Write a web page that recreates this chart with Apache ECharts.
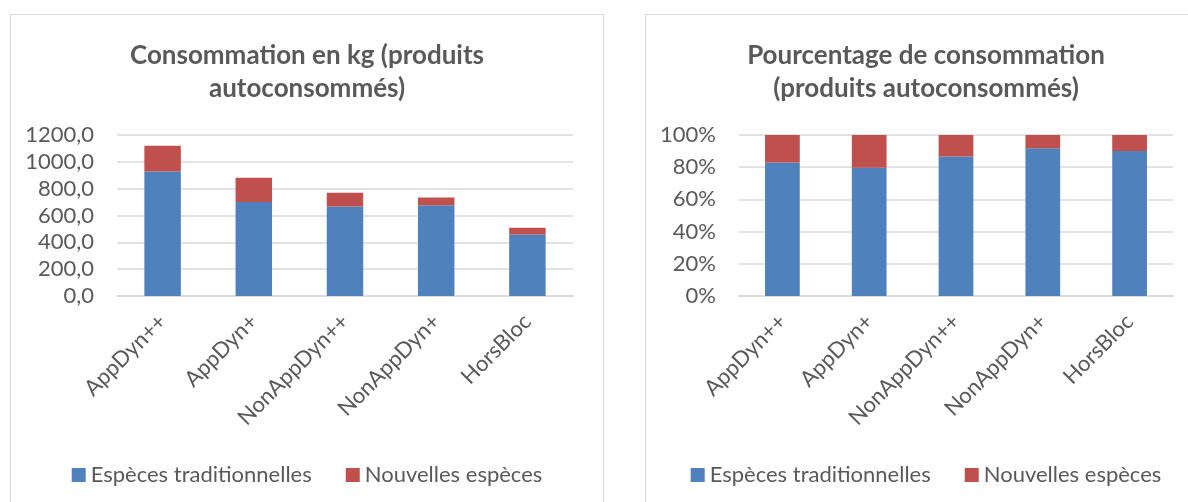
<!DOCTYPE html>
<html>
<head>
<meta charset="utf-8">
<script src="https://cdn.jsdelivr.net/npm/echarts@6/dist/echarts.min.js"></script>
<style>
    html, body {
        margin: 0;
        padding: 0;
        width: 1188px;
        height: 502px;
        overflow: hidden;
        background: #fff;
    }
    .box {
        position: absolute;
        top: 14px;
        height: 520px;
        border: 1px solid #d9d9d9;
        background: #fff;
    }
    #kg {
        left: 10px;
        width: 592px;
    }
    #pct {
        left: 645px;
        width: 560px;
    }
</style>
</head>
<body>
<div id="kg" class="box"></div>
<div id="pct" class="box"></div>

<script>
    // categories and series
    const categories = ['AppDyn++', 'AppDyn+', 'NonAppDyn++', 'NonAppDyn+', 'HorsBloc']
    const seriesNames = ['Espèces traditionnelles', 'Nouvelles espèces']

    // consumption in kg
    const kgTraditional = [928, 701, 668, 676, 458]
    const kgNew = [191, 180, 102, 59, 50]

    // share of consumption, %
    const pctTraditional = [82.9, 79.6, 86.7, 91.8, 90.1]
    const pctNew = [17.1, 20.4, 13.3, 8.2, 9.9]

    // tick labels
    const kgTicks = ['0,0', '200,0', '400,0', '600,0', '800,0', '1000,0', '1200,0']
    const pctTicks = ['0%', '20%', '40%', '60%', '80%', '100%']

    const FONT = 'Lato, "Liberation Sans", sans-serif'
    const TEXT = '#595959'
    const BLUE = '#4f81bd'
    const RED = '#c0504d'

    function buildOption({title, gridLeft, gridWidth, yMax, yInterval, ticks, traditional, extra}) {
        return {
            animation: false,
            textStyle: {fontFamily: FONT},
            title: {
                text: title,
                left: 'center',
                top: 19,
                textStyle: {
                    fontFamily: FONT,
                    fontSize: 26,
                    fontWeight: 'bold',
                    color: TEXT,
                    lineHeight: 33
                }
            },
            legend: {
                data: seriesNames,
                left: 'center',
                top: 444,
                itemWidth: 14,
                itemHeight: 14,
                itemGap: 34,
                icon: 'rect',
                textStyle: {fontFamily: FONT, fontSize: 22, color: TEXT}
            },
            grid: {
                left: gridLeft,
                top: 120,
                width: gridWidth,
                height: 161
            },
            xAxis: {
                type: 'category',
                data: categories,
                axisLine: {lineStyle: {color: '#d9d9d9', width: 1.5}},
                axisTick: {show: false},
                axisLabel: {
                    rotate: 45,
                    margin: 22,
                    interval: 0,
                    fontFamily: FONT,
                    fontSize: 22,
                    color: TEXT
                }
            },
            yAxis: {
                type: 'value',
                min: 0,
                max: yMax,
                interval: yInterval,
                axisLine: {show: false},
                axisTick: {show: false},
                splitLine: {lineStyle: {color: '#d9d9d9', width: 1.5}},
                axisLabel: {
                    margin: 23,
                    fontFamily: FONT,
                    fontSize: 22,
                    color: TEXT,
                    formatter: v => ticks[Math.round(v / yInterval)]
                }
            },
            series: [
                {
                    name: seriesNames[0],
                    type: 'bar',
                    stack: 'total',
                    barWidth: '40%',
                    data: traditional,
                    itemStyle: {color: BLUE}
                },
                {
                    name: seriesNames[1],
                    type: 'bar',
                    stack: 'total',
                    barWidth: '40%',
                    data: extra,
                    itemStyle: {color: RED}
                }
            ]
        }
    }

    const kgChart = echarts.init(document.getElementById('kg'))
    kgChart.setOption(buildOption({
        title: 'Consommation en kg (produits\nautoconsommés)',
        gridLeft: 106,
        gridWidth: 456,
        yMax: 1200,
        yInterval: 200,
        ticks: kgTicks,
        traditional: kgTraditional,
        extra: kgNew
    }))

    const pctChart = echarts.init(document.getElementById('pct'))
    pctChart.setOption(buildOption({
        title: 'Pourcentage de consommation\n(produits autoconsommés)',
        gridLeft: 93,
        gridWidth: 434,
        yMax: 100,
        yInterval: 20,
        ticks: pctTicks,
        traditional: pctTraditional,
        extra: pctNew
    }))
</script>
</body>
</html>
